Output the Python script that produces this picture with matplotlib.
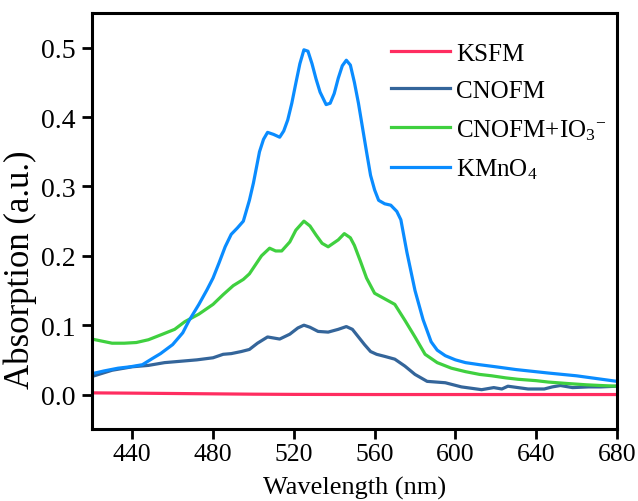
import numpy as np
import matplotlib.pyplot as plt

plt.rcParams['font.family'] = ['Liberation Serif', 'DejaVu Serif']
plt.rcParams['mathtext.fontset'] = 'custom'
plt.rcParams['mathtext.rm'] = 'Liberation Serif'
plt.rcParams['mathtext.it'] = 'Liberation Serif:italic'

# ---------------------------------------------------------------------------
# data (wavelength in nm, absorption in a.u.)
# ---------------------------------------------------------------------------
wl_ksfm = [420, 440, 460, 480, 500, 520, 540, 560, 600, 640, 680]
abs_ksfm = [0.0024, 0.002, 0.0015, 0.001, 0.0005, 0.0002, 0.0001, 0.0, 0.0, 0.0, 0.0]

wl_cnofm = [420, 430, 440, 448, 456, 464, 472, 480, 485, 489, 494, 498, 502, 507,
            513, 518, 522, 525, 528, 532, 537, 542, 546, 549, 552, 555, 558, 561,
            565, 570, 575, 580, 586, 595, 603, 608, 613, 619, 623, 626, 631, 636,
            644, 648, 652, 658, 666, 672, 680]
abs_cnofm = [0.026, 0.035, 0.040, 0.042, 0.046, 0.048, 0.050, 0.053, 0.058, 0.059,
             0.062, 0.065, 0.074, 0.083, 0.080, 0.087, 0.096, 0.100, 0.097, 0.091,
             0.090, 0.094, 0.098, 0.094, 0.083, 0.072, 0.062, 0.058, 0.055, 0.051,
             0.041, 0.029, 0.019, 0.017, 0.011, 0.009, 0.007, 0.010, 0.008, 0.012,
             0.010, 0.008, 0.008, 0.011, 0.013, 0.010, 0.011, 0.011, 0.012]

wl_io3 = [420, 425, 430, 436, 442, 448, 455, 461, 466, 473, 480, 485, 490, 495,
          498, 501, 504, 508, 511, 514, 518, 521, 525, 528, 531, 534, 537, 542,
          545, 548, 550, 553, 556, 560, 565, 570, 575, 580, 585, 591, 598, 605,
          612, 618, 625, 631, 640, 646, 655, 665, 672, 680]
abs_io3 = [0.080, 0.077, 0.074, 0.074, 0.075, 0.079, 0.087, 0.094, 0.105, 0.116,
           0.130, 0.144, 0.157, 0.166, 0.174, 0.187, 0.200, 0.211, 0.207, 0.207,
           0.220, 0.237, 0.250, 0.243, 0.230, 0.218, 0.213, 0.223, 0.232, 0.226,
           0.215, 0.192, 0.168, 0.146, 0.138, 0.130, 0.107, 0.083, 0.058, 0.046,
           0.038, 0.033, 0.029, 0.027, 0.024, 0.022, 0.020, 0.018, 0.016, 0.014,
           0.013, 0.012]

wl_kmno4 = [420, 426, 433, 439, 445, 450, 454, 460, 465, 468, 473, 477, 480, 483,
            486, 489, 492, 495, 498, 500, 503, 505, 507, 510, 513, 515, 517, 519,
            521, 523, 525, 527, 529, 531, 533, 536, 538, 540, 542, 544, 546, 548,
            550, 552, 554, 556, 558, 560, 562, 565, 568, 571, 573, 576, 580, 584,
            588, 591, 595, 600, 605, 612, 620, 630, 646, 660, 670, 680]
abs_kmno4 = [0.030, 0.034, 0.038, 0.040, 0.043, 0.052, 0.059, 0.072, 0.089, 0.106,
             0.130, 0.151, 0.168, 0.190, 0.213, 0.231, 0.240, 0.250, 0.280, 0.305,
             0.350, 0.368, 0.378, 0.375, 0.371, 0.380, 0.396, 0.420, 0.449, 0.477,
             0.497, 0.495, 0.477, 0.455, 0.436, 0.418, 0.420, 0.434, 0.456, 0.474,
             0.482, 0.475, 0.450, 0.420, 0.385, 0.350, 0.316, 0.295, 0.280, 0.275,
             0.273, 0.264, 0.252, 0.205, 0.150, 0.108, 0.076, 0.064, 0.056, 0.050,
             0.046, 0.043, 0.040, 0.036, 0.031, 0.027, 0.023, 0.019]

labels = ['KSFM', 'CNOFM', r'CNOFM+IO$_3$$^{\mathregular{-}}$', r'KMnO$_4$']
colors = ['#FF2D60', '#34659A', '#3FD03F', '#0A8CFF']

# ---------------------------------------------------------------------------
# plot
# ---------------------------------------------------------------------------
fig = plt.figure(figsize=(6.38, 5.02), dpi=100)
ax = fig.add_axes([0.144, 0.143, 0.823, 0.829])

series = [(wl_ksfm, abs_ksfm), (wl_cnofm, abs_cnofm), (wl_io3, abs_io3), (wl_kmno4, abs_kmno4)]
for (x, y), lab, c in zip(series, labels, colors):
    ax.plot(x, y, color=c, lw=2.3, label=lab, solid_joinstyle='round')

ax.set_xlim(420, 680)
ax.set_ylim(-0.05, 0.55)
ax.set_xticks(np.arange(440, 681, 40))
ax.set_yticks([0.0, 0.1, 0.2, 0.3, 0.4, 0.5])
ax.set_yticklabels(['0.0', '0.1', '0.2', '0.3', '0.4', '0.5'])

for s in ax.spines.values():
    s.set_linewidth(2.2)
ax.tick_params(axis='both', direction='out', length=7, width=2,
               top=False, right=False, pad=5)
ax.tick_params(axis='x', labelsize=18.5, pad=3)
ax.tick_params(axis='y', labelsize=20)

ax.set_xlabel('Wavelength (nm)', fontsize=19, labelpad=8)
ax.set_ylabel('Absorption (a.u.)', fontsize=25)
ax.yaxis.set_label_coords(-0.104, 0.385)

leg = ax.legend(loc='upper left', bbox_to_anchor=(0.57, 0.93), frameon=False,
                fontsize=18, handlelength=2.35, handletextpad=0.25,
                labelspacing=0.6, borderpad=0, borderaxespad=0)

fig.savefig('out.png', dpi=100)
